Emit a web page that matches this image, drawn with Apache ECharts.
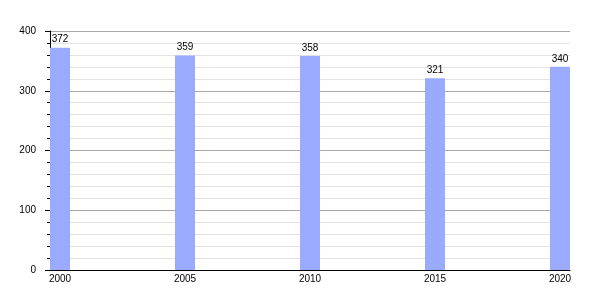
<!DOCTYPE html>
<html>
<head>
<meta charset="utf-8">
<script src="https://cdn.jsdelivr.net/npm/echarts@6/dist/echarts.min.js"></script>
<style>html,body{margin:0;padding:0;background:#fff}#c{width:600px;height:300px}</style>
</head>
<body>
<div id="c"></div>
<script>
const years = [2000, 2005, 2010, 2015, 2020];
const values = [372, 359, 358, 321, 340];
const yTicks = [0, 100, 200, 300, 400];

const chart = echarts.init(document.getElementById('c'), null, {renderer: 'canvas'});
const font = 'Liberation Sans, Arial, sans-serif';
chart.setOption({
  animation: false,
  grid: {left: 50, top: 31, width: 520, height: 239, containLabel: false},
  xAxis: {
    type: 'value',
    min: 1999.6,
    max: 2020.4,
    axisLine: {show: true, lineStyle: {color: '#000', width: 1}},
    axisTick: {show: false},
    splitLine: {show: false},
    axisLabel: {
      customValues: years,
      margin: 4,
      color: '#000',
      fontSize: 10,
      fontFamily: font,
      formatter: v => String(v)
    }
  },
  yAxis: {
    type: 'value',
    min: 0,
    max: 400,
    interval: 100,
    axisLine: {show: true, lineStyle: {color: '#000', width: 1}},
    axisTick: {show: true, length: 5, lineStyle: {color: '#000'}},
    minorTick: {show: true, splitNumber: 5, length: 3, lineStyle: {color: '#000'}},
    splitLine: {show: true, lineStyle: {color: '#a8a8a8', width: 1}},
    minorSplitLine: {show: true, lineStyle: {color: '#e2e2e2', width: 1}},
    axisLabel: {
      customValues: yTicks,
      margin: 14,
      color: '#000',
      fontSize: 10,
      fontFamily: font
    }
  },
  series: [{
    type: 'bar',
    barWidth: 20,
    data: years.map((y, i) => [y, values[i]]),
    itemStyle: {color: '#99aaff'},
    label: {
      show: true,
      position: 'top',
      distance: 3,
      color: '#000',
      fontSize: 10,
      fontFamily: font
    }
  }]
});
</script>
</body>
</html>
